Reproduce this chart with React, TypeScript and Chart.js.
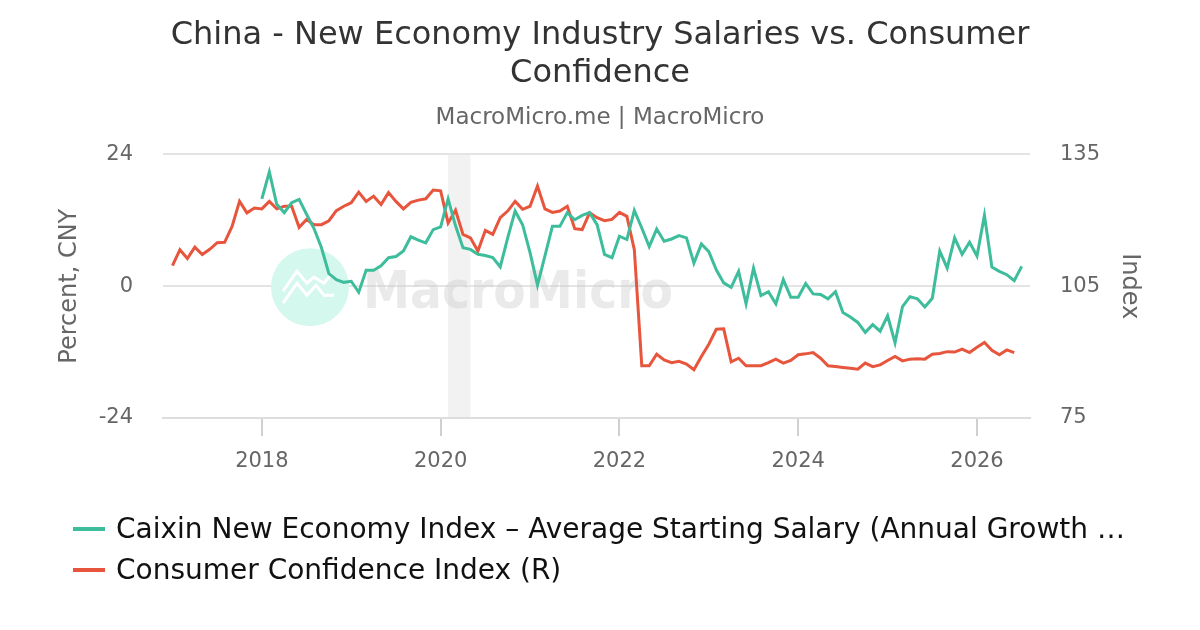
import { useEffect, useRef } from "react";
import { Chart, registerables } from "chart.js";

Chart.register(...registerables);

// Consumer Confidence Index (right axis), monthly from Jan 2017
const confidenceStart = 2017;
const confidence = [
  109.7, 113.3, 111.3, 113.9, 112.2, 113.4, 114.9, 115.0, 118.6, 124.3, 121.7, 122.8,
  122.6, 124.3, 122.6, 123.2, 123.2, 118.4, 120.2, 119.0, 119.0, 119.9, 122.2, 123.2,
  124.0, 126.4, 124.3, 125.5, 123.6, 126.3, 124.3, 122.6, 124.1, 124.6, 124.9, 126.9,
  126.7, 119.4, 122.3, 116.8, 116.0, 113.0, 117.7, 116.8, 120.6, 122.1, 124.3, 122.5,
  123.2, 127.8, 122.6, 121.8, 122.1, 123.2, 118.1, 117.9, 121.7, 120.6, 119.9, 120.2,
  121.8, 120.9, 113.3, 86.9, 86.9, 89.5, 88.2, 87.6, 87.9, 87.3, 86.0, 89.0,
  91.8, 95.2, 95.3, 87.8, 88.6, 86.9, 86.9, 86.9, 87.6, 88.4, 87.5, 88.1,
  89.4, 89.6, 89.9, 88.6, 86.9, 86.7, 86.5, 86.3, 86.1, 87.5, 86.7, 87.1,
  88.1, 89.0, 88.0, 88.4, 88.5, 88.4, 89.5, 89.7, 90.1, 90.0, 90.7, 89.9,
  91.1, 92.2, 90.4, 89.4, 90.5, 89.9,
];

// Caixin New Economy Index – average starting salary, YoY %, monthly from Jan 2018
const salaryStart = 2018;
const salaryGrowth = [
  15.9, 20.8, 14.9, 13.4, 15.2, 15.8, 13.1, 10.5, 7.0, 2.3, 1.2, 0.7,
  0.9, -1.1, 2.9, 2.9, 3.7, 5.2, 5.4, 6.4, 9.0, 8.4, 7.9, 10.3,
  10.8, 15.9, 11.0, 7.0, 6.7, 5.8, 5.6, 5.2, 3.5, 8.8, 13.7, 11.2,
  6.1, 0.2, 5.5, 10.9, 10.9, 13.4, 12.1, 12.9, 13.4, 11.2, 5.8, 5.2,
  9.1, 8.5, 13.8, 10.6, 7.2, 10.4, 8.2, 8.6, 9.2, 8.8, 4.2, 7.7,
  6.3, 3.0, 0.6, -0.2, 2.7, -3.2, 3.3, -1.7, -1.0, -3.2, 1.2, -2.0,
  -2.0, 0.5, -1.4, -1.5, -2.3, -1.0, -4.8, -5.6, -6.6, -8.4, -7.0, -8.2,
  -5.4, -10.3, -3.7, -1.9, -2.3, -3.8, -2.2, 6.4, 3.3, 8.8, 5.8, 8.0,
  5.5, 12.9, 3.5, 2.7, 2.1, 1.0, 3.6,
];

const yearTicks = [2018, 2020, 2022, 2024, 2026];
const leftTicks = [-24, 0, 24];
const rightTicks = [75, 105, 135];
const xRange = [2016.894, 2026.593];
const covidBand = [2020 + 1 / 12, 2020 + 4 / 12];

const GREEN = "#3dbd9b";
const RED = "#e8553d";
const FONT = "'DejaVu Sans', Verdana, sans-serif";

const legendItems = [
  { color: GREEN, text: "Caixin New Economy Index – Average Starting Salary (Annual Growth …" },
  { color: RED, text: "Consumer Confidence Index (R)" },
];

function monthly(values: number[], startYear: number) {
  return values.map((v, i) => ({ x: startYear + i / 12, y: v }));
}

// light grey band behind the plot (Feb–Apr 2020)
const bandPlugin = {
  id: "band",
  beforeDraw(chart: any) {
    const { ctx, chartArea, scales } = chart;
    const x0 = scales.x.getPixelForValue(covidBand[0]);
    const x1 = scales.x.getPixelForValue(covidBand[1]);
    ctx.save();
    ctx.fillStyle = "#f2f2f2";
    ctx.fillRect(x0, chartArea.top, x1 - x0, chartArea.bottom - chartArea.top);
    ctx.restore();
  },
};

// MacroMicro watermark
const watermarkPlugin = {
  id: "watermark",
  beforeDatasetsDraw(chart: any) {
    const { ctx, chartArea } = chart;
    const cx = chartArea.left + 147;
    const cy = (chartArea.top + chartArea.bottom) / 2 + 1;
    ctx.save();
    ctx.fillStyle = "#d4f7ee";
    ctx.beginPath();
    ctx.arc(cx, cy, 39, 0, Math.PI * 2);
    ctx.fill();
    ctx.strokeStyle = "#ffffff";
    ctx.lineWidth = 3;
    ctx.beginPath();
    ctx.moveTo(cx - 27, cy + 4);
    ctx.lineTo(cx - 13, cy - 16);
    ctx.lineTo(cx - 3, cy - 4);
    ctx.lineTo(cx + 4, cy - 10);
    ctx.lineTo(cx + 14, cy - 4);
    ctx.lineTo(cx + 22, cy - 14);
    ctx.stroke();
    ctx.beginPath();
    ctx.moveTo(cx - 27, cy + 16);
    ctx.lineTo(cx - 13, cy - 4);
    ctx.lineTo(cx - 3, cy + 8);
    ctx.lineTo(cx + 6, cy - 2);
    ctx.lineTo(cx + 14, cy + 8);
    ctx.lineTo(cx + 24, cy + 8);
    ctx.stroke();
    ctx.fillStyle = "rgba(205,205,205,0.42)";
    ctx.font = "bold 52px " + FONT;
    ctx.textBaseline = "alphabetic";
    ctx.textAlign = "left";
    ctx.fillText("MacroMicro", chartArea.left + 200, cy + 21, 310);
    ctx.restore();
  },
};

export default function App() {
  const ref = useRef<HTMLCanvasElement | null>(null);
  const chartRef = useRef<Chart | null>(null);

  useEffect(() => {
    document.body.style.margin = "0";
    if (!ref.current) return;
    chartRef.current?.destroy();
    const ctx = ref.current.getContext("2d");
    if (!ctx) return;

    Chart.defaults.font.family = FONT;
    Chart.defaults.color = "#666";

    const tickFont = { size: 21 };

    chartRef.current = new Chart(ctx, {
      type: "line",
      data: {
        datasets: [
          {
            label: legendItems[0].text,
            data: monthly(salaryGrowth, salaryStart),
            borderColor: GREEN,
            backgroundColor: GREEN,
            borderWidth: 3,
            pointRadius: 0,
            tension: 0,
            yAxisID: "y",
          },
          {
            label: legendItems[1].text,
            data: monthly(confidence, confidenceStart),
            borderColor: RED,
            backgroundColor: RED,
            borderWidth: 3,
            pointRadius: 0,
            tension: 0,
            yAxisID: "y1",
          },
        ],
      },
      options: {
        animation: false,
        responsive: true,
        maintainAspectRatio: false,
        layout: { padding: { left: 0, right: 0, top: 0, bottom: 152 } },
        plugins: {
          legend: { display: false },
          tooltip: { enabled: false },
          title: {
            display: true,
            text: ["China - New Economy Industry Salaries vs. Consumer", "Confidence"],
            color: "#333",
            font: { size: 32, weight: "normal", lineHeight: 1.2 },
            padding: { top: 16, bottom: 11 },
          },
          subtitle: {
            display: true,
            text: "MacroMicro.me | MacroMicro",
            color: "#666",
            font: { size: 23, lineHeight: 1.2 },
            padding: { top: 0, bottom: 23 },
          },
        },
        scales: {
          x: {
            type: "linear",
            min: xRange[0],
            max: xRange[1],
            afterBuildTicks: (s: any) => {
              s.ticks = yearTicks.map((v) => ({ value: v }));
            },
            afterFit: (s: any) => {
              s.height = 60;
            },
            ticks: {
              callback: (v: any) => String(v),
              color: "#666",
              font: tickFont,
              padding: 13,
              maxRotation: 0,
              autoSkip: false,
            },
            grid: { drawOnChartArea: false, tickLength: 18, color: "#d0d0d0", lineWidth: 2 },
            border: { color: "#dddddd", width: 2 },
          },
          y: {
            position: "left",
            min: -24,
            max: 24,
            afterBuildTicks: (s: any) => {
              s.ticks = leftTicks.map((v) => ({ value: v }));
            },
            afterFit: (s: any) => {
              s.width = 163;
            },
            ticks: { color: "#666", font: tickFont, padding: 30 },
            grid: { color: "#e4e4e4", lineWidth: 2, drawTicks: false },
            border: { display: false },
            title: {
              display: true,
              text: "Percent, CNY",
              color: "#666",
              font: { size: 24, lineHeight: 1.2 },
              padding: { top: 55, bottom: 0 },
            },
          },
          y1: {
            position: "right",
            min: 75,
            max: 135,
            afterBuildTicks: (s: any) => {
              s.ticks = rightTicks.map((v) => ({ value: v }));
            },
            afterFit: (s: any) => {
              s.width = 170;
            },
            ticks: { color: "#666", font: tickFont, padding: 30 },
            grid: { display: false, drawTicks: false },
            border: { display: false },
            title: {
              display: true,
              text: "Index",
              color: "#666",
              font: { size: 24, lineHeight: 1.2 },
              padding: { top: 56, bottom: 0 },
            },
          },
        },
      },
      plugins: [bandPlugin, watermarkPlugin],
    });

    return () => {
      chartRef.current?.destroy();
      chartRef.current = null;
    };
  }, []);

  return (
    <div style={{ position: "relative", width: 1200, height: 630, background: "#fff", fontFamily: FONT }}>
      <canvas ref={ref} />
      <div style={{ position: "absolute", left: 73, top: 508 }}>
        {legendItems.map((item) => (
          <div
            key={item.text}
            style={{ display: "flex", alignItems: "center", height: 41, fontSize: 28, color: "#111", whiteSpace: "nowrap" }}
          >
            <span style={{ display: "inline-block", width: 32, height: 4, background: item.color, marginRight: 11 }} />
            <span>{item.text}</span>
          </div>
        ))}
      </div>
    </div>
  );
}
